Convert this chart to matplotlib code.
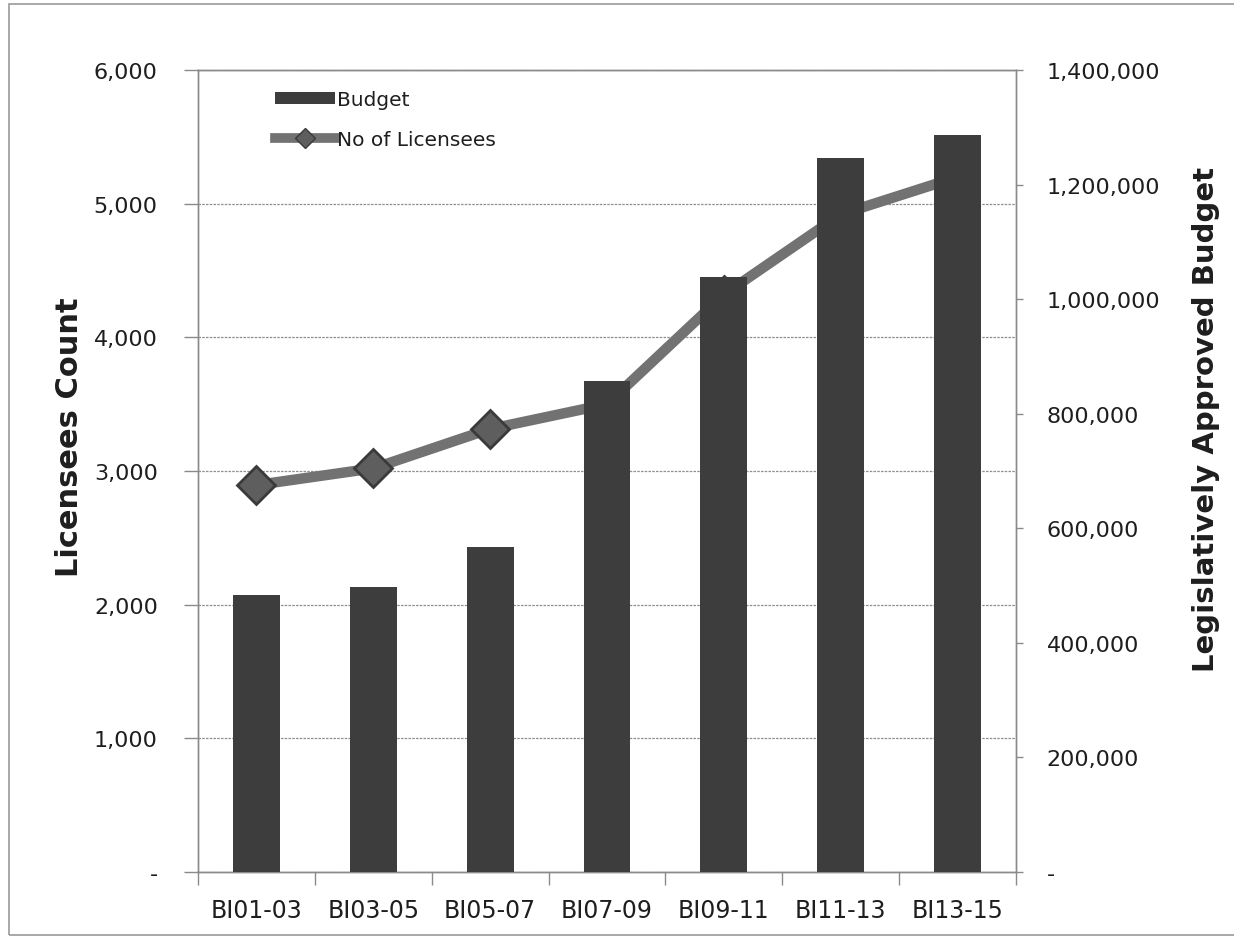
import matplotlib
matplotlib.use("Agg")
import matplotlib.pyplot as plt
from matplotlib.patches import Rectangle, Patch
from matplotlib.lines import Line2D
from matplotlib.ticker import FuncFormatter, FixedLocator
import numpy as np

categories = ['BI01-03', 'BI03-05', 'BI05-07', 'BI07-09', 'BI09-11', 'BI11-13', 'BI13-15']
budget = [483000, 497000, 567000, 857000, 1039000, 1247000, 1286000]
licensees = [2895, 3020, 3315, 3500, 4320, 4920, 5200]
left_ticks = [0, 1000, 2000, 3000, 4000, 5000, 6000]
right_ticks = [0, 200000, 400000, 600000, 800000, 1000000, 1200000, 1400000]

plt.rcParams['font.family'] = ['DejaVu Sans']

fig = plt.figure(figsize=(12.34, 9.37), dpi=100)
ax1 = fig.add_axes([0.1605, 0.0683, 0.8233 - 0.1605, 0.9242 - 0.0683])
ax2 = ax1.twinx()

x = np.arange(len(categories))
spine_c = '#8a8a8a'
text_c = '#1e1e1e'
line_c = '#727272'

# line on left axis (drawn beneath bars)
ax1.plot(x, licensees, color=line_c, lw=7.5, marker='D', markersize=19,
         markerfacecolor='#5e5e5e', markeredgecolor='#3a3a3a', markeredgewidth=2,
         solid_joinstyle='round', zorder=3)
ax1.set_ylim(0, 6000)
ax1.set_xlim(-0.5, len(categories) - 0.5)
ax1.yaxis.set_major_locator(FixedLocator(left_ticks))
fmt = FuncFormatter(lambda v, p: '-' if v == 0 else f'{int(v):,}')
ax1.yaxis.set_major_formatter(fmt)
ax1.grid(axis='y', color='#8f8f8f', lw=0.9, linestyle=(0, (2, 1)))
ax1.set_axisbelow(True)

# bars on right axis
ax2.bar(x, budget, width=0.4, color='#3d3d3d', zorder=3)
ax2.set_ylim(0, 1400000)
ax2.yaxis.set_major_locator(FixedLocator(right_ticks))
ax2.yaxis.set_major_formatter(fmt)

# x ticks
ax1.set_xticks(x)
ax1.set_xticklabels(categories)
ax1.set_xticks(np.arange(-0.5, len(categories), 1.0), minor=True)
ax1.tick_params(axis='x', which='major', length=0, pad=19, labelsize=17, labelcolor=text_c)
ax1.tick_params(axis='x', which='minor', length=9, width=1, color=spine_c, direction='out')
ax1.tick_params(axis='y', length=10, width=1, color=spine_c, pad=19, labelsize=16, labelcolor=text_c)
ax2.tick_params(axis='y', length=5, width=1, color=spine_c, pad=17, labelsize=16, labelcolor=text_c)

for ax in (ax1, ax2):
    for s in ax.spines.values():
        s.set_color(spine_c)
        s.set_linewidth(1)

ax1.set_ylabel('Licensees Count', fontsize=22, fontweight='bold', color=text_c)
ax1.yaxis.set_label_coords(-0.14, 0.543)
ax2.set_ylabel('Legislatively Approved Budget', fontsize=21, fontweight='bold', color=text_c)
ax2.yaxis.set_label_coords(1.215, 0.565)

handles = [Patch(facecolor='#3d3d3d', edgecolor='none'),
           Line2D([0], [0], color=line_c, lw=7, marker='D', markersize=10,
                  markerfacecolor='#5e5e5e', markeredgecolor='#3a3a3a')]
leg = ax2.legend(handles, ['Budget', 'No of Licensees'], loc='upper left',
                 bbox_to_anchor=(0.094, 0.975), frameon=False, fontsize=14.5,
                 handlelength=3.0, handletextpad=0.1, labelspacing=1.05,
                 borderpad=0, borderaxespad=0, handleheight=0.6)
for t in leg.get_texts():
    t.set_color(text_c)

# scanned page border
fig.patches.append(Rectangle((9 / 1234, 1 / 937), 1.05, 1 - 6 / 937, transform=fig.transFigure,
                             fill=False, edgecolor='#9a9a9a', lw=1.2))

fig.savefig('out.png', dpi=100)
